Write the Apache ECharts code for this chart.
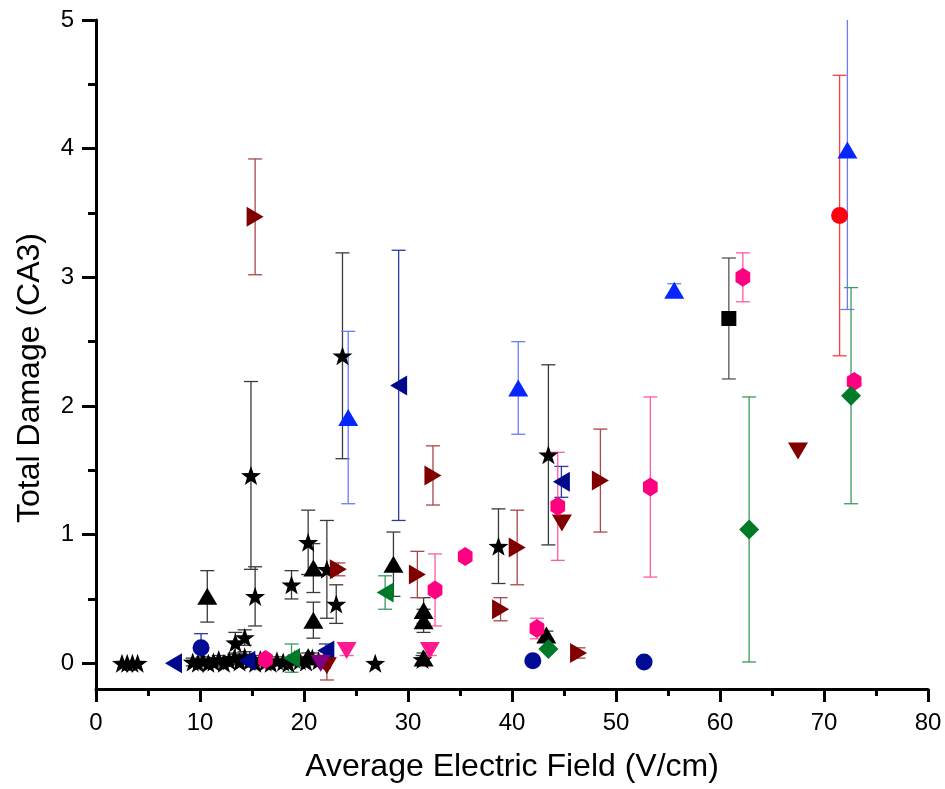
<!DOCTYPE html>
<html><head><meta charset="utf-8">
<script src="https://cdn.jsdelivr.net/npm/echarts@6/dist/echarts.min.js"></script>
<style>html,body{margin:0;padding:0;background:#fff}#c{width:945px;height:789px}</style>
</head><body><div id="c"></div><script>
// ---------- data ----------
const xTicks = [0, 10, 20, 30, 40, 50, 60, 70, 80];
const yTicks = [0, 1, 2, 3, 4, 5];
const yMinorTicks = [0.5, 1.5, 2.5, 3.5, 4.5];
const xTitle = 'Average Electric Field (V/cm)';
const yTitle = 'Total Damage (CA3)';

// black stars
const starX   = [2.5,3.0,3.5,4.0, 9.3,9.8,10.3,10.8,11.3,11.8,12.3,12.8,13.3,13.8,14.3,14.8,15.3,15.8,16.3,16.8,17.4,18.0,18.5,19.1,19.6,20.2,20.8,21.4,22.0, 13.4,14.3,14.9,15.3,18.8,20.4,22.2,23.1,23.7,26.85,31.4,38.7,43.5];
const starY   = [0,0,0,0, 0.01,0,0.02,0,0.01,0.03,0,0.02,0.04,0.01,0.05,0.02,0,0.03,0.01,0,0.02,0.01,0,0.03,0.02,0.01,0.04,0.02,0.03, 0.16,0.20,1.46,0.52,0.61,0.94,0.73,0.46,2.39,0,0.03,0.91,1.62];
const starErr = [0,0,0,0, 0.03,0.02,0.03,0.02,0.03,0.03,0.02,0.03,0.03,0.02,0.04,0.03,0.02,0.03,0.02,0.02,0.03,0.02,0.02,0.03,0.03,0.02,0.04,0.03,0.03, 0.08,0.06,0.73,0.23,0.11,0.25,0.38,0.15,0.80,0,0.03,0.29,0.70];
// black up triangles
const triX   = [10.7,20.9,20.9,20.4,28.6,31.5,31.5,31.5,43.3];
const triY   = [0.52,0.74,0.335,0.05,0.77,0.41,0.33,0.04,0.22];
const triErr = [0.20,0.19,0.14,0.03,0.25,0.10,0.09,0.04,0.03];
// blue up triangles
const blueTriX   = [24.25,40.6,55.6,72.25];
const blueTriY   = [1.91,2.14,2.90,3.99];
const blueTriErr = [0.67,0.36,0.05,1.24];
// navy left triangles
const navyLeftX   = [7.45,14.5,22.1,29.1,44.75];
const navyLeftY   = [0.0,0.02,0.10,2.16,1.41];
const navyLeftErr = [0,0.05,0.05,1.05,0.12];
// dark red right triangles
const redRightX   = [15.3,23.3,30.9,32.4,38.9,40.5,46.4,48.5];
const redRightY   = [3.47,0.73,0.69,1.46,0.42,0.90,0.08,1.42];
const redRightErr = [0.45,0.05,0.18,0.23,0.09,0.29,0.04,0.40];
// dark red down triangles
const redDownX   = [22.2,44.8,67.5];
const redDownY   = [-0.02,1.09,1.65];
const redDownErr = [0.11,0,0];
// pink hexagons
const hexX   = [16.3,32.6,35.5,42.4,44.4,53.3,62.2,72.9];
const hexY   = [0.03,0.57,0.83,0.27,1.22,1.37,3.00,2.19];
const hexErr = [0,0.28,0,0.08,0.42,0.70,0.19,0];
// pink down triangles
const pinkDownX   = [24.1,32.1];
const pinkDownY   = [0.10,0.10];
const pinkDownErr = [0.04,0.04];
// green diamonds
const diaX   = [43.5,62.8,72.6];
const diaY   = [0.11,1.04,2.08];
const diaErr = [0,1.03,0.84];
// green left triangles
const greenLeftX   = [18.8,27.8];
const greenLeftY   = [0.04,0.55];
const greenLeftErr = [0.11,0.13];
// navy circles
const navyCircX   = [10.1,42.0,52.7];
const navyCircY   = [0.12,0.02,0.01];
const navyCircErr = [0.11,0.02,0];
// red circle
const redCircX = [71.5], redCircY = [3.48], redCircErr = [1.09];
// black square
const sqX = [60.85], sqY = [2.68], sqErr = [0.47];
// purple down triangle
const purpX = [21.6], purpY = [0.0], purpErr = [0];

// ---------- styles ----------
const FONT = "'Liberation Sans', Arial, sans-serif";
const STAR = 'path://M0,-10 L2.351,-3.236 L9.511,-3.090 L3.804,1.236 L5.878,8.090 L0,4 L-5.878,8.090 L-3.804,1.236 L-9.511,-3.090 L-2.351,-3.236 Z';
const HEX = 'path://M0,-10 L8.66,-5 L8.66,5 L0,10 L-8.66,5 L-8.66,-5 Z';

const groups = [
  {name:'star', x:starX, y:starY, e:starErr, symbol:STAR, size:20, rot:0, color:'#000000', ec:'#3a3a3a'},
  {name:'tri', x:triX, y:triY, e:triErr, symbol:'triangle', size:[20,17], rot:0, color:'#000000', ec:'#3a3a3a'},
  {name:'blueTri', x:blueTriX, y:blueTriY, e:blueTriErr, symbol:'triangle', size:[20,17], rot:0, color:'#0526ff', ec:'#6a7cf8'},
  {name:'navyLeft', x:navyLeftX, y:navyLeftY, e:navyLeftErr, symbol:'triangle', size:[20,17], rot:90, color:'#00088c', ec:'#2a3aa0'},
  {name:'redRight', x:redRightX, y:redRightY, e:redRightErr, symbol:'triangle', size:[20,17], rot:-90, color:'#800000', ec:'#a84848'},
  {name:'redDown', x:redDownX, y:redDownY, e:redDownErr, symbol:'triangle', size:[20,17], rot:180, color:'#800000', ec:'#a84848'},
  {name:'hex', x:hexX, y:hexY, e:hexErr, symbol:HEX, size:[17,19], rot:0, color:'#ff0080', ec:'#ff5aa5'},
  {name:'pinkDown', x:pinkDownX, y:pinkDownY, e:pinkDownErr, symbol:'triangle', size:[20,17], rot:180, color:'#ff1a90', ec:'#ff5aa5'},
  {name:'dia', x:diaX, y:diaY, e:diaErr, symbol:'diamond', size:[20,20], rot:0, color:'#007a28', ec:'#3e9a5c'},
  {name:'greenLeft', x:greenLeftX, y:greenLeftY, e:greenLeftErr, symbol:'triangle', size:[20,17], rot:90, color:'#007a28', ec:'#3e9a5c'},
  {name:'navyCirc', x:navyCircX, y:navyCircY, e:navyCircErr, symbol:'circle', size:17, rot:0, color:'#000c96', ec:'#2a3aa0'},
  {name:'redCirc', x:redCircX, y:redCircY, e:redCircErr, symbol:'circle', size:17, rot:0, color:'#ff0010', ec:'#ff3a48'},
  {name:'sq', x:sqX, y:sqY, e:sqErr, symbol:'rect', size:15, rot:0, color:'#000000', ec:'#555555'},
  {name:'purp', x:purpX, y:purpY, e:purpErr, symbol:'triangle', size:[20,17], rot:180, color:'#800080', ec:'#a040a0'}
];

function errRenderer(color){
  return function(params, api){
    const x = api.value(0), y = api.value(1), e = api.value(2);
    if (!e) return null;
    const t = api.coord([x, y + e]), b = api.coord([x, y - e]);
    const hw = 7, st = {stroke: color, lineWidth: 1.3};
    return {type:'group', children:[
      {type:'line', shape:{x1:t[0], y1:t[1], x2:b[0], y2:b[1]}, style:st},
      {type:'line', shape:{x1:t[0]-hw, y1:t[1], x2:t[0]+hw, y2:t[1]}, style:st},
      {type:'line', shape:{x1:b[0]-hw, y1:b[1], x2:b[0]+hw, y2:b[1]}, style:st}
    ]};
  };
}

const series = [];
groups.forEach(g => {
  const d = g.x.map((v, i) => [v, g.y[i], g.e[i]]);
  series.push({type:'custom', name:g.name+'Err', renderItem: errRenderer(g.ec), data:d,
    encode:{x:0, y:1}, clip:true, z:2, silent:true});
});
groups.forEach(g => {
  const d = g.x.map((v, i) => [v, g.y[i]]);
  series.push({type:'scatter', name:g.name, data:d, symbol:g.symbol, symbolSize:g.size,
    symbolRotate:g.rot, symbolKeepAspect:true, itemStyle:{color:g.color, opacity:1},
    z:3, silent:true, animation:false});
});

const chart = echarts.init(document.getElementById('c'), null, {renderer:'canvas'});
chart.setOption({
  animation:false,
  backgroundColor:'#fff',
  grid:{left:96, right:17, top:20, bottom:100},
  graphic:[
    {type:'text', x:30, y:378, rotation:Math.PI/2,
      style:{text:yTitle, fill:'#000', font:"32px 'Liberation Sans', Arial, sans-serif", align:'center', verticalAlign:'middle'}}
  ],
  xAxis:{type:'value', min:xTicks[0], max:xTicks[xTicks.length-1], interval:10,
    name:xTitle, nameLocation:'middle', nameGap:62,
    nameTextStyle:{fontSize:32, color:'#000', fontFamily:FONT},
    axisLine:{onZero:false, lineStyle:{color:'#000', width:3}},
    axisTick:{length:13, lineStyle:{color:'#000', width:3}},
    minorTick:{show:true, splitNumber:2, length:7, lineStyle:{color:'#000', width:3}},
    axisLabel:{fontSize:24, color:'#000', margin:22, fontFamily:FONT},
    splitLine:{show:false}, minorSplitLine:{show:false}},
  yAxis:[
    {type:'value', min:-0.2, max:yTicks[yTicks.length-1],
      axisLine:{onZero:false, lineStyle:{color:'#000', width:3}},
      axisTick:{length:14, lineStyle:{color:'#000', width:3}, customValues:yTicks},
      axisLabel:{fontSize:24, color:'#000', margin:22, fontFamily:FONT, customValues:yTicks},
      splitLine:{show:false}},
    {type:'value', min:-0.2, max:yTicks[yTicks.length-1], position:'left',
      axisLine:{show:false, onZero:false},
      axisTick:{show:true, length:8, lineStyle:{color:'#000', width:3}, customValues:yMinorTicks},
      axisLabel:{show:false}, splitLine:{show:false}}
  ],
  series: series
});
</script></body></html>
